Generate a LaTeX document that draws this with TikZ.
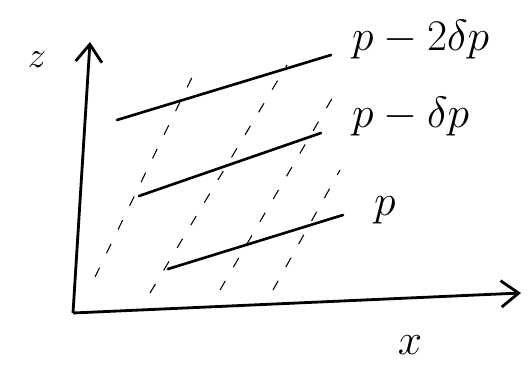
\documentclass[tikz,border=0pt]{standalone}
\usepackage{tikz}
\usetikzlibrary{arrows.meta}
\newcommand{\AxTip}{Straight Barb[length=10,width=15]}
\tikzset{axis/.style={line width=1.6pt,-{\AxTip}}}
\tikzset{isobar/.style={line width=1.5pt,line cap=round}}
\tikzset{trace/.style={line width=.6pt,dash pattern=on 6pt off 9pt}}
\tikzset{lbl/.style={font=\fontsize{26}{28}\selectfont}}
\begin{document}
\begin{tikzpicture}[x=0.02cm,y=-0.02cm]
\useasboundingbox(0,0)rectangle(531,381);
\coordinate(o)at(73,313);\coordinate(zt)at(90,42);\coordinate(xt)at(521,293);
\draw[axis](o)--(zt);\draw[axis](o)--(xt);
\node(lz)[font=\fontsize{22}{24}\selectfont]at(37,60){$z$};\node(lx)[font=\fontsize{28}{30}\selectfont]at(410,345){$x$};
% isobaric levels
\coordinate(a1)at(117,120);\coordinate(a2)at(331,55);
\coordinate(b1)at(139,196);\coordinate(b2)at(321,133);
\coordinate(c1)at(168,269);\coordinate(c2)at(343,215);
\draw[isobar](a1)--(a2);\draw[isobar](b1)--(b2);\draw[isobar](c1)--(c2);
\node(la)[lbl,anchor=west]at(346,40){$p-2\delta p$};
\node(lb)[lbl,anchor=west]at(346,117){$p-\delta p$};
\node(lc)[lbl,anchor=west]at(368,210){$p$};
% slanted traces
\coordinate(t1)at(95,277);\coordinate(u1)at(197,67);
\coordinate(t2)at(150,293);\coordinate(u2)at(287,65);
\coordinate(t3)at(220,290);\coordinate(u3)at(337,90);
\coordinate(t4)at(273,290);\coordinate(u4)at(340,170);
\draw[trace](t1)--(u1);\draw[trace](t2)--(u2);\draw[trace](t3)--(u3);\draw[trace](t4)--(u4);
\end{tikzpicture}
\end{document}
